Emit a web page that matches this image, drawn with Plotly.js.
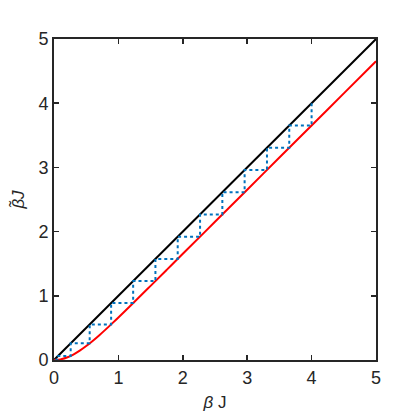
<!DOCTYPE html>
<html>
<head>
<meta charset="utf-8">
<script src="https://cdn.plot.ly/plotly-3.0.1.min.js"></script>
<style>
  html, body { margin: 0; padding: 0; background: #fff; }
  #plot { width: 415px; height: 415px; }
</style>
</head>
<body>
<div id="plot"></div>
<script>
// diagonal (identity line)
const diagX = [0, 5];
const diagY = [0, 5];

// renormalized coupling curve
const curveX = [0, 0.1, 0.2, 0.3, 0.4, 0.5, 0.6, 0.7, 0.8, 0.9, 1.0, 1.25, 1.5, 1.75, 2.0, 2.5, 3.0, 3.5, 4.0, 4.5, 5.0];
const curveY = [0, 0.010, 0.039, 0.085, 0.145, 0.217, 0.297, 0.383, 0.473, 0.567, 0.662, 0.907, 1.155, 1.404, 1.654, 2.153, 2.653, 3.153, 3.653, 4.153, 4.653];

// staircase corner values (successive couplings)
const steps = [4, 3.653, 3.307, 2.960, 2.614, 2.268, 1.921, 1.575, 1.229, 0.887, 0.554, 0.259, 0.064, 0.004];

const tickVals = [0, 1, 2, 3, 4, 5];

const stairX = [steps[0]];
const stairY = [steps[0]];
for (let i = 0; i < steps.length - 1; i++) {
    stairX.push(steps[i], steps[i + 1]);
    stairY.push(steps[i + 1], steps[i + 1]);
}

const data = [
    {
        x: diagX, y: diagY,
        type: 'scatter', mode: 'lines',
        line: {color: '#000000', width: 2},
        hoverinfo: 'skip',
    },
    {
        x: curveX, y: curveY,
        type: 'scatter', mode: 'lines',
        line: {color: '#ff0000', width: 2, shape: 'spline'},
        hoverinfo: 'skip',
    },
    {
        x: stairX, y: stairY,
        type: 'scatter', mode: 'lines',
        line: {color: '#0072bd', width: 2, dash: 'dot'},
        hoverinfo: 'skip',
    },
];

const font = 'Liberation Sans, Arial, sans-serif';

const axisCommon = {
    range: [0, 5],
    tickvals: tickVals,
    ticks: 'inside',
    ticklen: 5,
    tickwidth: 1.5,
    tickcolor: '#262626',
    showline: true,
    linecolor: '#262626',
    linewidth: 2,
    mirror: 'ticks',
    showgrid: false,
    zeroline: false,
    tickfont: {family: font, size: 18, color: '#262626'},
    fixedrange: true,
};

const layout = {
    width: 415,
    height: 415,
    margin: {l: 54, r: 39, t: 39, b: 55},
    paper_bgcolor: '#ffffff',
    plot_bgcolor: '#ffffff',
    showlegend: false,
    xaxis: Object.assign({}, axisCommon, {
        title: {text: '<i>β</i> J', standoff: 10,
            font: {family: font, size: 17, color: '#262626'}},
    }),
    yaxis: Object.assign({}, axisCommon, {
        title: {text: '<i>β\u0303J</i>', standoff: 9,
            font: {family: font, size: 17, color: '#262626'}},
    }),
};

Plotly.newPlot('plot', data, layout, {displayModeBar: false, staticPlot: true});
</script>
</body>
</html>
